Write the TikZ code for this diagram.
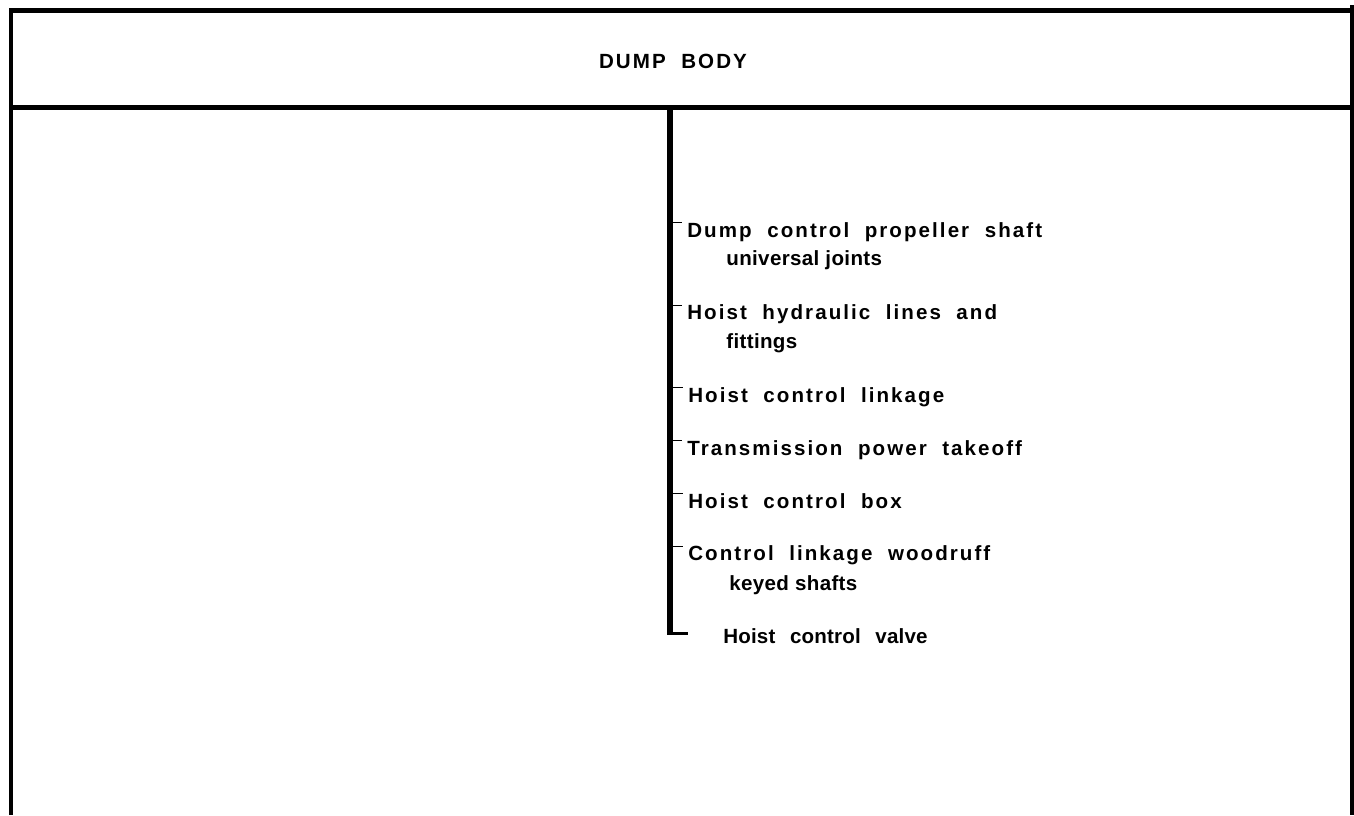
\documentclass[tikz,border=0pt]{standalone}
\usepackage{fontspec}
\setmainfont{Liberation Sans}
\newfontfamily\spacedFont{Liberation Sans}[LetterSpace=10,WordSpace=2.0]
\newfontfamily\subFont{Liberation Sans}[LetterSpace=1.7]
\newfontfamily\wideFont{Liberation Sans}[LetterSpace=0.8,WordSpace=2.5]
\tikzset{
	frame/.style={line width=2.6pt},
	trunk/.style={line width=3.4pt},
	hook/.style={line width=1.7pt},
	tick/.style={line width=0.5pt},
	entry/.style={anchor=base west, inner sep=0pt, font=\spacedFont\bfseries\fontsize{11.7}{14}\selectfont},
	subentry/.style={anchor=base west, inner sep=0pt, font=\subFont\bfseries\fontsize{11.7}{14}\selectfont},
	wideentry/.style={subentry, font=\wideFont\bfseries\fontsize{11.7}{14}\selectfont}
}

\begin{document}
\begin{tikzpicture}[x=0.02cm, y=-0.02cm]
		\useasboundingbox (0,0) rectangle (1354,815);

		% Draw outer frame, open at the bottom
		\draw [frame] (11,815) -- (11,10.5) -- (1352,10.5);
		\draw [frame] (1352,5) -- (1352,815);
		\draw [frame] (11,107.5) -- (1352,107.5);

		\node [entry, anchor=base] (title) at (673,68) {DUMP BODY};

		% Draw trunk with its hook
		\coordinate (trunkTop) at (670,107.5);
		\coordinate (trunkEnd) at (670,635);
		\coordinate (hookStart) at (667,633.5);
		\coordinate (hookEnd) at (688,633.5);
		\draw [trunk] (trunkTop) -- (trunkEnd);
		\draw [hook] (hookStart) -- (hookEnd);

		\node [entry] (dumpA) at (687,237) {Dump control propeller shaft};
		\node [subentry] (dumpB) at (726,265) {universal joints};
		\node [entry] (hydA) at (687,319.5) {Hoist hydraulic lines and};
		\node [subentry] (hydB) at (726,348) {fittings};
		\node [entry] (link) at (688,402) {Hoist control linkage};
		\node [entry] (pto) at (687,455) {Transmission power takeoff};
		\node [entry] (box) at (688,508) {Hoist control box};
		\node [entry] (woodA) at (688,560.5) {Control linkage woodruff};
		\node [subentry] (woodB) at (729,590) {keyed shafts};
		\node [wideentry] (valve) at (723,643) {Hoist control valve};

		% Ticks from trunk to entries
		\foreach \n in {dumpA,hydA,link,pto,box,woodA}
			\draw [tick] ([xshift=3*0.02cm, yshift=-0.02cm] trunkTop |- \n.north west) -- ([xshift=-5*0.02cm, yshift=-0.02cm] \n.north west);
	\end{tikzpicture}
\end{document}
